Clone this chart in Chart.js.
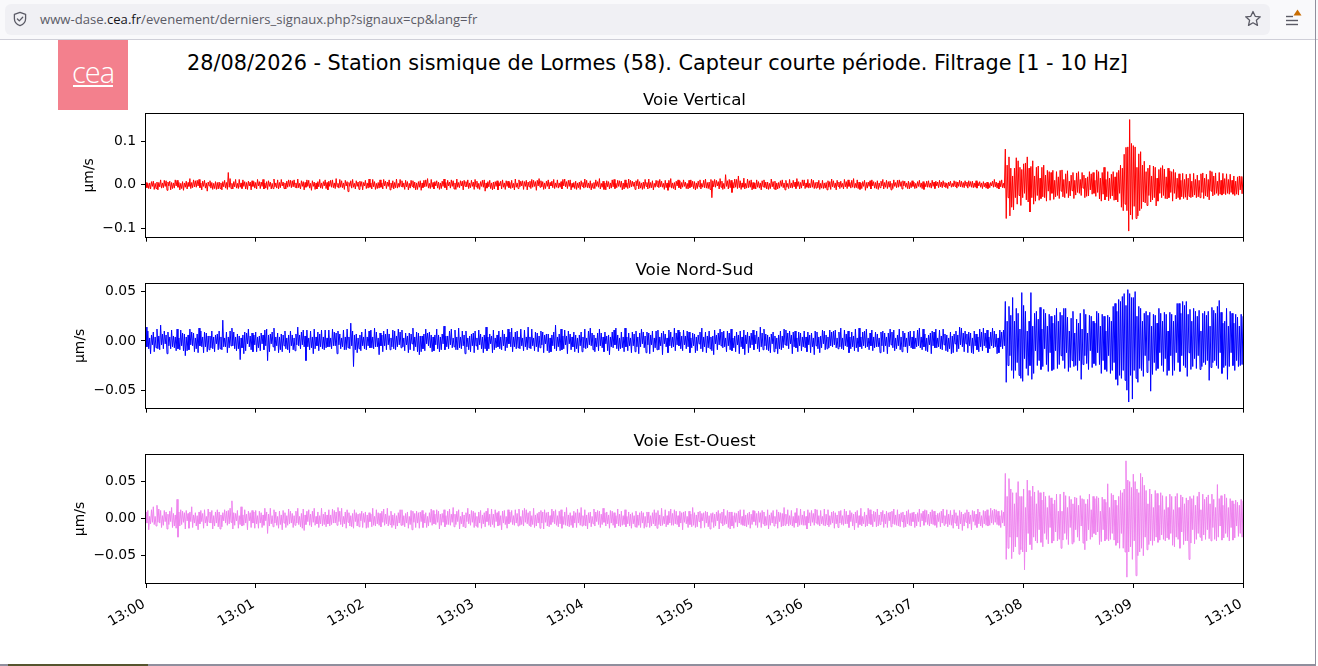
<!DOCTYPE html>
<html><head><meta charset="utf-8">
<script src="https://cdn.jsdelivr.net/npm/chart.js@4.4.1/dist/chart.umd.min.js"></script>
<style>
html,body{margin:0;padding:0;background:#fff;width:1318px;height:666px;overflow:hidden;position:relative;font-family:"DejaVu Sans",sans-serif}
#toolbar{position:absolute;left:0;top:0;width:1318px;height:39px;background:#f9f9fb;border-bottom:1px solid #cfcfd8}
#urlbar{position:absolute;left:5px;top:4px;width:1265px;height:31px;border-radius:6px;background:#f0f0f4}
#url{position:absolute;left:40px;top:0;height:39px;line-height:39px;font-family:"Open Sans",sans-serif;font-size:13.1px;color:#5b5b66;white-space:nowrap}
#url b{font-weight:normal;color:#15141a}
#shield{position:absolute;left:12px;top:11px}
#star{position:absolute;left:1244px;top:10px}
#menu{position:absolute;left:1284px;top:8px}
#rborder{position:absolute;left:1315px;top:0;width:1px;height:666px;background:#8f8f9d}
#bborder{position:absolute;left:0;top:664px;width:1316px;height:2px;background:#8f8f9d}
#bdark{position:absolute;left:8px;top:664px;width:140px;height:2px;background:#55552f}
#logo{position:absolute;left:58px;top:40px;width:70px;height:70px;background:#f3808d}
#logo span{position:absolute;left:0;width:70px;top:12px;text-align:center;font-family:"Open Sans",sans-serif;font-weight:300;font-size:29px;line-height:40px;color:#fff;letter-spacing:-1px}
#logo i{position:absolute;left:15px;top:45px;width:40px;height:2px;background:#fff}
#suptitle{position:absolute;left:0;width:1315px;top:51px;text-align:center;font-size:20.8px;line-height:24px;color:#000;white-space:nowrap}
.panel{position:absolute;left:0;width:1318px}
</style></head>
<body>
<div id="toolbar">
  <div id="urlbar"></div>
  <svg id="shield" width="16" height="16" viewBox="0 0 16 16"><path d="M8 1.3 L13.6 3.4 V7.8 C13.6 11 11.2 13.6 8 14.7 C4.8 13.6 2.4 11 2.4 7.8 V3.4 Z" fill="none" stroke="#5b5b66" stroke-width="1.3" stroke-linejoin="round"/><path d="M5.4 8 L7.3 9.9 L10.7 6.3" fill="none" stroke="#5b5b66" stroke-width="1.3" stroke-linecap="round" stroke-linejoin="round"/></svg>
  <div id="url">www-dase.<b>cea.fr</b>/evenement/derniers_signaux.php?signaux=cp&amp;lang=fr</div>
  <svg id="star" width="18" height="18" viewBox="0 0 18 18"><path d="M9 1.5 L11.2 6.3 L16.3 6.8 L12.4 10.3 L13.5 15.4 L9 12.8 L4.5 15.4 L5.6 10.3 L1.7 6.8 L6.8 6.3 Z" fill="none" stroke="#5b5b66" stroke-width="1.3" stroke-linejoin="round"/></svg>
  <svg id="menu" width="20" height="20" viewBox="0 0 20 20"><path d="M2 8.5 H9" stroke="#5b5b66" stroke-width="1.4"/><path d="M2 12.5 H14" stroke="#5b5b66" stroke-width="1.4"/><path d="M2 16.5 H14" stroke="#5b5b66" stroke-width="1.4"/><path d="M13.5 1.5 L17.5 7.5 H9.5 Z" fill="#c86c00"/></svg>
</div>
<div id="logo"><span>cea</span><i></i></div>
<div id="suptitle">28/08/2026 - Station sismique de Lormes (58). Capteur courte période. Filtrage [1 - 10 Hz]</div>
<div class="panel" id="pV" style="top:90px;height:160px"><canvas id="cV"></canvas></div>
<div class="panel" id="pN" style="top:260px;height:161px"><canvas id="cN"></canvas></div>
<div class="panel" id="pE" style="top:431px;height:232px"><canvas id="cE"></canvas></div>
<div id="rborder"></div><div id="bborder"></div><div id="bdark"></div>
<script>
// ---- data (values in 0.001 µm/s, one sample every 0.5 s from 13:00:00) ----
const SAMPLE_INTERVAL_S = 0.5;
const xTickSeconds = [0, 60, 120, 180, 240, 300, 360, 420, 480, 540, 600];
const xTickLabels = ["13:00","13:01","13:02","13:03","13:04","13:05","13:06","13:07","13:08","13:09","13:10"];
const yTicksVertical = [-0.1, 0, 0.1];
const yTicksNordSud = [-0.05, 0, 0.05];
const yTicksEstOuest = [-0.05, 0, 0.05];

const verticalNm = [
5,-7,3,-9,4,-10,7,-4,8,-11,3,-9,6,-12,5,-5,11,-8,4,-7,10,-4,9,-13,6,-3,8,-12,5,-9,4,-8,11,-3,10,-6,5,-12,3,-9,
7,-13,4,-6,8,-10,5,-4,14,-9,5,-7,11,-5,9,-6,10,-3,12,-7,4,-12,8,-4,10,-8,4,-15,6,-3,9,-8,5,-11,3,-9,7,-11,5,-10,
6,-9,4,-12,7,-5,10,-8,5,-11,28,-6,14,-9,3,-10,7,-5,12,-8,3,-9,12,-6,4,-9,11,-4,7,-10,5,-11,8,-3,6,-12,9,-4,7,-8,
5,-10,12,-3,7,-9,6,-4,12,-10,4,-8,7,-11,9,-4,6,-10,3,-9,13,-5,4,-8,11,-10,5,-7,12,-3,6,-9,4,-10,8,-6,11,-4,10,-7,
9,-5,11,-6,4,-8,13,-7,3,-10,9,-4,7,-12,5,-6,11,-4,10,-8,3,-13,9,-4,6,-11,4,-10,7,-5,12,-8,4,-9,7,-3,11,-9,5,-12,
8,-4,10,-6,11,-7,4,-9,14,-5,3,-8,12,-6,9,-7,4,-11,10,-3,7,-16,5,-4,9,-8,12,-6,3,-10,9,-4,6,-11,8,-4,7,-12,5,-3,
10,-9,4,-8,13,-6,4,-10,12,-5,7,-11,3,-9,5,-8,11,-6,4,-10,12,-3,8,-9,6,-4,11,-12,4,-7,9,-10,5,-7,13,-8,3,-6,12,-4,
9,-6,4,-11,10,-5,7,-12,3,-8,10,-4,9,-8,6,-12,4,-11,7,-6,9,-13,4,-7,10,-5,11,-4,14,-8,3,-9,12,-6,5,-10,7,-3,9,-8,
6,-11,4,-9,8,-4,13,-7,5,-12,10,-3,6,-8,11,-4,9,-10,4,-11,13,-6,5,-7,9,-3,8,-12,10,-4,7,-5,11,-9,4,-7,10,-4,6,-11,
12,-5,8,-9,3,-11,7,-4,10,-6,11,-15,4,-8,7,-5,10,-9,4,-12,6,-10,7,-4,9,-12,5,-3,8,-10,11,-6,4,-11,9,-4,8,-7,5,-9,
10,-7,3,-12,13,-6,4,-9,11,-5,8,-3,9,-11,7,-4,10,-12,6,-5,8,-9,12,-6,10,-4,7,-13,10,-3,14,-6,9,-5,7,-11,4,-9,8,-4,
11,-10,5,-3,8,-7,12,-9,4,-6,11,-8,4,-6,7,-10,12,-3,13,-5,7,-9,10,-4,11,-12,3,-6,5,-9,8,-11,4,-7,6,-11,9,-4,5,-8,
13,-6,10,-7,4,-8,9,-12,3,-8,5,-9,11,-4,7,-6,14,-10,3,-6,8,-11,4,-12,9,-5,7,-10,4,-8,11,-5,12,-9,3,-7,10,-4,9,-6,
8,-12,4,-10,11,-6,4,-9,13,-7,10,-5,8,-4,6,-11,9,-3,12,-10,7,-8,4,-11,6,-9,12,-4,5,-10,13,-8,5,-7,9,-12,3,-6,10,-4,
9,-7,12,-5,8,-6,3,-11,10,-7,4,-13,10,-6,14,-8,4,-9,5,-12,8,-3,11,-7,9,-10,5,-6,11,-4,6,-9,3,-10,10,-7,11,-5,8,-9,
7,-12,4,-9,8,-5,11,-10,3,-6,10,-7,13,-8,5,-9,6,-11,12,-30,9,-5,12,-6,10,-3,7,-10,14,-6,8,-11,3,-9,23,-4,9,-10,12,-7,
10,-18,5,-8,13,-6,12,-9,20,-7,9,-11,4,-6,15,-10,3,-8,13,-7,9,-6,11,-12,5,-9,4,-10,11,-6,7,-8,4,-12,9,-5,11,-7,6,-10,
6,-11,3,-9,13,-5,7,-10,8,-12,4,-10,5,-8,9,-4,11,-7,4,-12,10,-6,3,-9,12,-7,4,-8,10,-5,6,-9,14,-4,7,-10,5,-8,11,-3,
11,-9,4,-6,12,-8,3,-7,13,-6,10,-9,5,-8,6,-7,10,-11,3,-8,10,-9,4,-8,5,-12,9,-6,7,-11,13,-5,9,-7,4,-12,10,-4,6,-9,
8,-6,3,-10,12,-5,7,-9,11,-4,5,-8,10,-6,14,-8,3,-7,11,-9,6,-11,4,-9,7,-4,10,-13,5,-8,6,-4,9,-10,11,-3,7,-8,5,-9,
9,-11,4,-7,8,-3,12,-10,5,-6,10,-9,7,-6,8,-12,3,-9,11,-4,5,-7,10,-6,11,-4,7,-10,9,-3,8,-6,4,-9,8,-10,5,-7,9,-4,
6,-9,3,-8,7,-4,10,-6,4,-9,7,-11,3,-5,8,-6,9,-6,4,-8,10,-4,6,-9,8,-3,6,-7,10,-5,6,-7,9,-4,5,-7,4,-9,6,-3,
8,-6,3,-5,9,-4,7,-8,6,-4,10,-5,8,-6,5,-7,9,-3,6,-8,9,-4,7,-6,8,-7,4,-6,9,-8,5,-3,7,-6,4,-9,7,-5,4,-8,
6,-9,3,-7,5,-3,8,-6,12,-5,6,-8,4,-10,9,-5,11,-7,3,-8,82,-78,45,-30,64,-72,38,-52,20,-58,38,-30,62,-45,55,-25,40,-48,35,-30,
48,-20,50,-35,64,-40,38,-63,42,-30,55,-45,20,-38,40,-25,43,-36,15,-32,40,-28,45,-30,22,-38,33,-15,30,-36,28,-20,33,-34,10,-28,30,-25,18,-32,
33,-15,34,-28,12,-30,25,-20,32,-30,8,-26,22,-14,28,-32,10,-24,27,-18,30,-20,12,-25,28,-8,22,-30,15,-27,18,-26,30,-12,25,-22,28,-20,10,-27,
34,-18,30,-33,15,-38,28,-22,40,-35,12,-28,30,-37,15,-32,24,-26,30,-36,18,-35,28,-40,33,-20,45,-52,38,-60,70,-45,86,-60,87,-107,150,-70,95,-80,
90,-50,87,-78,40,-72,71,-60,76,-55,45,-40,54,-42,30,-48,38,-25,45,-40,20,-35,43,-30,40,-49,15,-38,35,-20,39,-30,44,-25,36,-32,18,-33,38,-30,
32,-18,30,-38,35,-20,28,-33,15,-30,25,-34,10,-28,26,-32,12,-29,24,-35,15,-27,25,-30,8,-28,26,-24,12,-30,22,-28,10,-30,25,-18,27,-32,15,-26,
24,-28,12,-35,32,-15,30,-26,20,-23,27,-20,8,-25,28,-22,10,-24,26,-21,14,-23,25,-20,12,-22,24,-18,10,-22,20,-25,8,-22,18,-24,20,-12,19,-21,
19];

const nordSudNm = [
14,-6,10,-8,3,-13,6,-4,9,-11,4,-7,12,-8,5,-9,16,-4,7,-8,10,-3,6,-13,9,-5,4,-8,11,-6,5,-7,4,-10,12,-8,3,-9,11,-5,
8,-10,7,-15,4,-10,6,-9,12,-4,9,-5,8,-11,3,-8,7,-12,13,-5,10,-6,4,-12,9,-6,8,-11,5,-9,5,-7,10,-8,4,-11,6,-3,7,-9,
10,-8,4,-9,21,-6,3,-6,9,-12,4,-7,10,-5,13,-5,9,-8,4,-10,7,-8,5,-19,3,-7,6,-13,9,-10,8,-3,12,-6,5,-9,8,-11,6,-4,
9,-11,4,-7,5,-10,8,-3,6,-9,11,-5,12,-20,6,-11,7,-3,9,-6,13,-10,4,-5,8,-12,4,-9,7,-11,6,-5,10,-8,3,-9,6,-12,10,-5,
6,-9,3,-10,7,-4,14,-5,6,-8,9,-4,11,-6,5,-20,11,-6,3,-9,10,-7,4,-13,12,-8,4,-5,9,-10,7,-6,11,-8,4,-9,11,-7,3,-6,
11,-6,3,-8,12,-5,9,-5,8,-13,10,-4,7,-8,3,-6,11,-9,4,-9,12,-7,4,-8,18,-5,10,-26,6,-9,7,-12,3,-8,6,-10,9,-5,4,-8,
12,-9,4,-5,10,-7,11,-7,4,-8,13,-6,9,-6,3,-14,8,-5,6,-11,10,-5,7,-9,12,-4,7,-9,3,-6,11,-8,10,-9,5,-6,12,-4,9,-7,
11,-6,3,-10,8,-4,5,-12,8,-9,7,-3,13,-10,4,-6,9,-11,8,-14,5,-11,5,-8,7,-10,12,-3,8,-5,9,-7,6,-11,4,-10,6,-4,12,-8,
6,-11,4,-9,7,-3,15,-9,5,-6,5,-8,10,-4,12,-7,3,-6,11,-9,4,-9,13,-7,4,-8,10,-5,6,-13,10,-6,3,-9,5,-11,7,-5,8,-12,
10,-5,3,-9,11,-4,7,-8,4,-12,6,-8,14,-10,4,-8,7,-3,5,-12,11,-9,3,-7,6,-6,10,-8,4,-9,11,-5,7,-10,4,-7,12,-3,9,-6,
13,-11,4,-6,9,-8,10,-7,4,-8,12,-5,3,-10,11,-6,4,-9,14,-7,4,-8,12,-5,3,-10,9,-6,8,-11,5,-7,10,-4,9,-12,6,-3,7,-10,
7,-12,3,-11,6,-5,9,-8,16,-10,4,-6,7,-10,12,-9,5,-8,11,-4,5,-13,10,-3,7,-9,4,-6,9,-11,6,-8,3,-12,6,-5,9,-11,4,-7,
12,-8,3,-7,10,-4,13,-5,8,-9,6,-11,3,-6,8,-10,12,-5,8,-7,4,-11,9,-3,5,-10,6,-14,4,-6,9,-7,11,-4,13,-8,6,-10,3,-8,
9,-7,4,-11,13,-6,4,-10,8,-5,3,-12,9,-5,7,-11,10,-6,4,-13,8,-6,12,-3,9,-7,5,-12,9,-4,8,-13,6,-4,10,-11,3,-7,10,-9,
11,-9,4,-5,8,-14,10,-3,7,-6,3,-12,11,-5,9,-7,4,-6,13,-10,8,-4,11,-5,9,-8,5,-10,11,-4,5,-8,10,-6,9,-12,3,-7,8,-5,
7,-12,4,-10,6,-3,9,-8,13,-11,4,-6,9,-12,5,-7,10,-8,4,-10,5,-14,11,-3,6,-9,8,-4,12,-5,9,-7,10,-6,3,-11,10,-5,8,-9,
12,-10,3,-7,5,-11,9,-4,6,-13,10,-6,4,-8,11,-14,6,-3,9,-12,5,-7,8,-4,11,-9,6,-3,10,-8,4,-11,14,-6,8,-9,12,-5,7,-9,
6,-10,4,-12,7,-3,9,-11,5,-8,3,-13,6,-8,10,-9,5,-7,12,-4,11,-5,8,-8,10,-3,6,-13,9,-6,10,-7,3,-11,9,-5,8,-10,4,-6,
10,-7,4,-11,9,-4,6,-12,8,-6,3,-14,10,-5,9,-8,4,-12,5,-7,11,-3,10,-9,6,-8,4,-7,11,-5,9,-6,10,-4,11,-7,3,-8,9,-6,
13,-8,3,-9,11,-5,7,-6,10,-12,4,-8,9,-6,5,-10,12,-7,3,-11,13,-6,4,-8,9,-5,10,-7,12,-6,3,-9,8,-5,11,-10,4,-7,9,-6,
7,-6,3,-12,9,-5,10,-11,8,-5,4,-13,8,-6,12,-4,9,-7,11,-10,3,-8,6,-5,12,-9,4,-11,10,-6,8,-6,3,-12,9,-5,10,-7,4,-8,
10,-8,3,-6,11,-5,13,-7,4,-9,12,-6,7,-10,3,-11,6,-4,8,-13,10,-5,9,-7,12,-7,3,-6,11,-8,5,-9,12,-4,7,-10,6,-11,3,-8,
9,-13,5,-12,7,-3,10,-11,6,-8,14,-4,13,-6,8,-11,10,-3,7,-12,9,-5,8,-12,3,-13,10,-5,7,-9,4,-11,12,-6,9,-10,13,-5,8,-7,
11,-12,4,-8,9,-5,13,-7,10,-6,7,-13,3,-12,11,-6,9,-8,11,-5,40,-42,20,-25,35,-15,26,-30,44,-38,20,-30,33,-22,28,-35,12,-38,49,-41,
36,-18,30,-28,10,-35,20,-25,49,-39,15,-33,28,-10,30,-25,22,-20,34,-29,12,-26,32,-8,28,-24,15,-31,27,-12,25,-30,18,-29,26,-10,33,-28,20,-24,
29,-15,26,-20,33,-28,33,-12,24,-31,10,-27,23,-20,30,-26,8,-25,22,-30,18,-20,28,-39,12,-24,32,-15,27,-23,8,-29,26,-10,25,-27,20,-23,18,-25,
30,-12,28,-24,15,-33,27,-20,25,-29,10,-31,26,-15,24,-33,20,-30,35,-22,38,-39,30,-45,42,-35,40,-38,45,-30,48,-40,36,-50,52,-62,48,-35,44,-59,
44,-30,50,-38,25,-42,35,-28,33,-30,20,-36,28,-15,30,-32,26,-20,29,-51,15,-34,27,-22,26,-30,18,-28,33,-12,28,-25,20,-31,29,-18,27,-35,10,-30,
29,-15,27,-35,20,-30,26,-12,38,-22,38,-31,28,-15,40,-25,36,-27,40,-36,27,-12,32,-29,20,-26,33,-18,30,-28,25,-15,31,-29,10,-26,28,-22,30,-24,
26,-20,30,-40,15,-27,34,-22,31,-20,28,-25,35,-28,41,-12,29,-33,18,-27,20,-25,33,-39,15,-26,30,-12,28,-25,18,-30,27,-20,24,-26,15,-25,27,-24,
25];

const estOuestNm = [
9,-6,11,-15,3,-7,12,-5,16,-8,3,-10,18,-5,13,-6,11,-12,4,-9,11,-4,9,-14,6,-8,10,-4,15,-12,7,-10,5,-13,26,-25,9,-10,12,-8,
10,-5,8,-14,11,-3,7,-13,9,-4,16,-12,5,-6,8,-10,4,-15,9,-7,11,-4,7,-13,12,-6,3,-10,13,-5,9,-6,11,-14,4,-10,9,-6,12,-11,
9,-14,5,-11,8,-3,12,-6,10,-9,11,-7,14,-5,24,-14,8,-9,7,-3,11,-13,4,-8,16,-10,5,-9,12,-6,6,-15,10,-3,8,-12,11,-6,9,-13,
11,-7,4,-13,10,-6,8,-12,5,-9,14,-3,9,-20,6,-10,14,-7,4,-11,12,-6,9,-9,3,-13,10,-8,5,-15,11,-6,8,-12,4,-9,13,-7,10,-6,
7,-12,4,-9,10,-6,14,-8,3,-11,7,-13,13,-16,5,-8,10,-4,12,-9,6,-11,10,-5,14,-9,3,-7,9,-12,4,-7,14,-10,6,-8,9,-11,5,-7,
12,-10,5,-8,13,-6,11,-6,9,-9,15,-4,10,-8,14,-11,3,-7,9,-13,12,-5,8,-10,4,-11,7,-13,12,-4,8,-10,6,-11,7,-3,10,-12,7,-5,
9,-13,5,-12,8,-4,6,-11,14,-9,3,-10,12,-7,8,-9,7,-11,10,-5,13,-9,6,-7,14,-10,4,-8,10,-12,5,-9,7,-14,4,-10,8,-6,12,-9,
12,-9,4,-11,7,-6,9,-13,3,-8,11,-15,10,-5,7,-12,10,-6,8,-13,9,-4,11,-12,6,-6,8,-12,3,-10,8,-5,13,-9,11,-7,6,-8,12,-5,
10,-14,6,-9,7,-5,12,-11,4,-8,10,-8,13,-9,6,-5,15,-11,6,-8,10,-4,12,-14,3,-7,9,-11,5,-12,8,-4,14,-7,6,-9,11,-5,10,-12,
8,-10,3,-12,9,-6,11,-13,5,-7,8,-11,10,-4,14,-9,6,-11,13,-8,6,-12,12,-4,8,-10,10,-9,4,-15,10,-6,11,-8,3,-13,12,-7,9,-5,
11,-8,4,-9,12,-6,7,-10,13,-9,3,-8,11,-10,14,-5,12,-7,8,-9,10,-11,4,-8,14,-12,5,-10,7,-6,9,-13,11,-6,9,-14,12,-5,8,-10,
9,-11,4,-8,13,-5,10,-7,12,-9,4,-11,10,-7,12,-13,3,-8,9,-9,15,-10,5,-11,8,-9,4,-12,10,-6,8,-12,13,-6,8,-9,15,-10,4,-9,
12,-10,5,-14,8,-6,9,-11,3,-7,13,-10,9,-4,11,-8,10,-12,6,-8,14,-5,8,-10,9,-7,5,-13,11,-6,10,-9,8,-12,4,-7,13,-10,6,-11,
10,-9,4,-8,12,-11,3,-7,9,-10,6,-13,8,-7,4,-11,10,-12,5,-9,8,-12,10,-6,8,-13,3,-11,9,-6,9,-12,4,-10,8,-7,12,-10,8,-13,
11,-8,5,-10,14,-9,3,-7,12,-11,4,-8,10,-6,13,-9,7,-9,12,-7,10,-8,4,-11,10,-6,8,-15,9,-5,10,-7,3,-12,10,-8,6,-11,15,-9,
8,-12,5,-11,9,-4,10,-13,7,-3,8,-12,10,-6,9,-11,4,-14,7,-5,8,-12,6,-10,9,-3,11,-14,7,-6,9,-10,13,-8,4,-7,11,-12,9,-14,
9,-10,4,-13,8,-5,7,-11,10,-6,12,-8,3,-9,12,-10,5,-11,7,-8,9,-13,6,-8,11,-4,10,-9,7,-12,10,-5,8,-12,11,-7,9,-10,3,-9,
12,-14,5,-9,8,-6,11,-10,3,-7,12,-13,9,-4,8,-11,7,-10,15,-9,6,-7,12,-10,4,-8,11,-10,3,-12,8,-6,14,-11,4,-9,13,-8,5,-9,
10,-9,3,-14,12,-6,8,-10,11,-5,7,-9,13,-6,12,-8,4,-10,11,-7,3,-9,13,-10,6,-8,12,-11,4,-8,9,-6,10,-13,8,-7,5,-12,10,-6,
11,-8,4,-9,13,-7,10,-7,5,-12,11,-4,8,-10,6,-15,9,-6,11,-12,4,-8,14,-10,3,-7,9,-11,5,-10,14,-7,12,-8,6,-11,10,-4,9,-11,
13,-10,5,-8,9,-4,11,-12,6,-7,10,-12,8,-3,9,-11,10,-7,13,-8,5,-9,12,-10,6,-11,8,-4,9,-12,5,-11,10,-7,12,-9,7,-10,8,-4,
9,-12,6,-10,8,-4,13,-11,7,-3,10,-9,12,-5,11,-8,6,-10,9,-7,12,-8,10,-9,5,-12,7,-4,8,-11,10,-6,13,-9,4,-7,12,-11,6,-8,
11,-9,5,-13,12,-6,8,-10,4,-14,11,-7,9,-16,6,-10,8,-5,12,-13,9,-7,5,-15,11,-4,10,-9,6,-12,13,-7,9,-10,4,-12,11,-7,10,-9,
12,-10,4,-9,14,-6,11,-8,13,-5,12,-8,10,-9,4,-12,11,-6,9,-10,61,-55,30,-40,54,-25,40,-54,35,-45,20,-38,35,-25,50,-48,30,-42,30,-45,
40,-69,15,-45,52,-20,38,-35,30,-42,44,-25,36,-30,20,-33,38,-15,35,-32,25,-38,36,-20,30,-28,15,-34,31,-12,28,-33,20,-30,25,-18,33,-30,10,-28,
33,-40,10,-29,36,-20,31,-28,15,-35,30,-12,26,-34,20,-32,29,-15,28,-25,18,-30,31,-10,27,-33,26,-42,20,-30,26,-15,33,-28,12,-25,30,-20,27,-22,
30,-18,28,-35,10,-31,29,-15,26,-30,22,-28,47,-30,15,-28,34,-20,32,-29,25,-36,18,-33,30,-40,38,-20,35,-40,40,-45,78,-79,52,-45,50,-38,42,-55,
60,-30,50,-77,40,-50,35,-45,61,-40,56,-50,45,-25,38,-42,20,-35,40,-30,33,-36,15,-30,38,-25,34,-32,18,-29,35,-22,31,-28,12,-30,30,-26,15,-28,
33,-20,30,-36,12,-38,30,-25,34,-28,15,-40,32,-18,29,-35,20,-30,28,-30,25,-55,30,-33,27,-15,31,-34,18,-28,30,-20,36,-25,12,-30,33,-22,26,-28,
29,-15,32,-27,20,-30,33,-12,26,-28,15,-30,46,-25,27,-10,31,-29,18,-26,33,-20,28,-25,15,-30,27,-12,24,-29,20,-26,25,-10,22,-24,18,-20,26,-25,
24];

// ---- rendering ----
Chart.defaults.font.family = "'DejaVu Sans', sans-serif";
Chart.defaults.color = '#000';

const framePlugin = {
  id: 'frame',
  afterDatasetsDraw(chart) {
    const {ctx, chartArea: a} = chart;
    const l = Math.round(a.left) - 0.5, t = Math.round(a.top) - 0.5;
    const r = Math.round(a.right) + 0.5, b = Math.round(a.bottom) + 0.5;
    ctx.save();
    ctx.strokeStyle = '#000';
    ctx.lineWidth = 1;
    ctx.strokeRect(l, t, r - l, b - t);
    ctx.restore();
  }
};

function fmt(v, d) {
  const s = Math.abs(v).toFixed(d);
  return (v < -1e-12 ? '\u2212' : '') + s;
}

function limits(arr) {
  const lo = Math.min(...arr), hi = Math.max(...arr), m = 0.05 * (hi - lo);
  return [(lo - m) / 1000, (hi + m) / 1000];
}

function makePanel(canvasId, title, valuesNm, color, yTicks, decimals, cfg) {
  const [ymin, ymax] = limits(valuesNm);
  const pts = valuesNm.map((v, i) => ({x: i * SAMPLE_INTERVAL_S, y: v / 1000}));
  return new Chart(document.getElementById(canvasId), {
    type: 'line',
    data: { datasets: [{ data: pts, borderColor: color, borderWidth: 1, pointRadius: 0, fill: false, tension: 0 }] },
    plugins: [framePlugin],
    options: {
      animation: false,
      responsive: true,
      maintainAspectRatio: false,
      parsing: false,
      normalized: true,
      events: [],
      layout: { padding: { left: cfg.left, right: 75, top: 0.8, bottom: 0 } },
      plugins: {
        legend: { display: false },
        tooltip: { enabled: false },
        title: { display: true, text: title, fullSize: false, color: '#000',
                 font: { size: 16.7, weight: 'normal' }, padding: { top: 0, bottom: 3.16 } }
      },
      scales: {
        x: {
          type: 'linear', min: 0, max: 600,
          afterBuildTicks(axis) { axis.ticks = xTickSeconds.map(v => ({value: v})); },
          afterFit(axis) { axis.height = cfg.xh; },
          border: { display: false },
          grid: { drawOnChartArea: false, drawTicks: true, tickLength: 5, color: '#000', tickWidth: 1 },
          ticks: {
            display: cfg.xlabels, autoSkip: false, maxRotation: 30, minRotation: 30,
            padding: 8, labelOffset: -2, font: { size: 13.9 }, color: '#000',
            callback: (v, i) => xTickLabels[i]
          }
        },
        y: {
          type: 'linear', min: ymin, max: ymax,
          afterBuildTicks(axis) { axis.ticks = yTicks.map(v => ({value: v})); },
          afterFit(axis) { axis.width = 146 - cfg.left; },
          border: { display: false },
          grid: { drawOnChartArea: false, drawTicks: true, tickLength: 5, color: '#000', tickWidth: 1 },
          ticks: { padding: 5, font: { size: 13.9 }, color: '#000', callback: v => fmt(v, decimals) },
          title: { display: true, text: 'µm/s', font: { size: 13.9 }, color: '#000', padding: 0 }
        }
      }
    }
  });
}

makePanel('cV', 'Voie Vertical', verticalNm, '#ff0000', yTicksVertical, 1, { left: 81.5, xh: 8, xlabels: false });
makePanel('cN', 'Voie Nord-Sud', nordSudNm, '#0000ff', yTicksNordSud, 2, { left: 72.5, xh: 8, xlabels: false });
makePanel('cE', 'Voie Est-Ouest', estOuestNm, '#ee82ee', yTicksEstOuest, 2, { left: 72.5, xh: 80, xlabels: true });
</script>
</body></html>
